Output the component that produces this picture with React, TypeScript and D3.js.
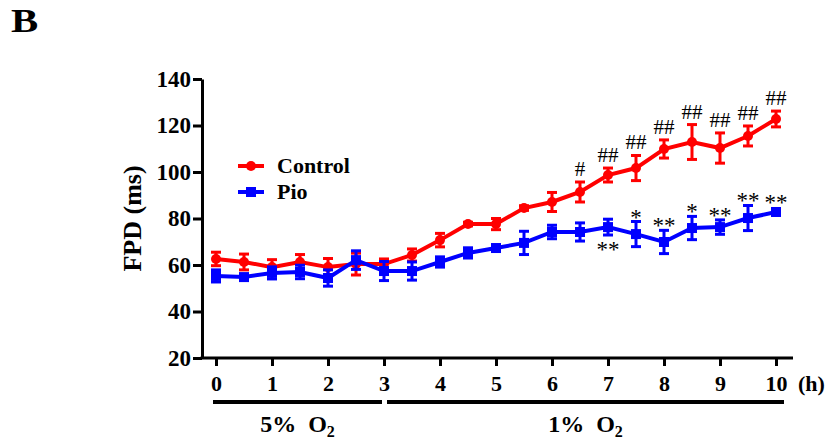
import React, { useEffect, useRef } from "react";
import * as d3 from "d3";

// time points (h)
const hours = [0, 0.5, 1, 1.5, 2, 2.5, 3, 3.5, 4, 4.5, 5, 5.5, 6, 6.5, 7, 7.5, 8, 8.5, 9, 9.5, 10];

const controlMean = [62.6, 61.3, 59.1, 61.3, 59.1, 60.4, 60.4, 64.3, 70.7, 77.6, 77.6, 84.5, 87.1, 91.4, 98.7, 101.7, 109.9, 112.9, 110.3, 115.5, 122.8];
const controlErr = [2.9, 3.4, 3.2, 3.2, 3.7, 4.7, 2.2, 2.6, 2.9, 0.8, 2.4, 1.0, 4.1, 4.3, 3.0, 5.4, 3.9, 7.5, 6.5, 4.3, 3.4];

const pioMean = [55.3, 54.8, 56.6, 57.0, 54.4, 62.1, 57.4, 57.4, 61.3, 65.2, 67.3, 69.5, 74.2, 74.2, 76.3, 73.3, 69.9, 75.9, 76.3, 80.2, 82.8];
const pioErr = [2.6, 0.7, 2.6, 2.9, 3.5, 4.0, 4.1, 3.9, 2.2, 2.2, 0.8, 5.0, 2.9, 3.9, 3.4, 5.4, 5.0, 5.0, 3.1, 5.4, 0.8];

const xTicks = [0, 1, 2, 3, 4, 5, 6, 7, 8, 9, 10];
const yTicks = [20, 40, 60, 80, 100, 120, 140];

// significance marks
const controlSig = [
  { t: 6.5, label: "#" },
  { t: 7, label: "##" },
  { t: 7.5, label: "##" },
  { t: 8, label: "##" },
  { t: 8.5, label: "##" },
  { t: 9, label: "##" },
  { t: 9.5, label: "##" },
  { t: 10, label: "##" },
];
const pioSigAbove = [
  { t: 7.5, label: "*" },
  { t: 8, label: "**" },
  { t: 8.5, label: "*" },
  { t: 9, label: "**" },
  { t: 9.5, label: "**" },
  { t: 10, label: "**" },
];
const pioSigBelow = [{ t: 7, label: "**" }];

const phases = [
  { from: 0, to: 3, label: "5%" },
  { from: 3, to: 10, label: "1%" },
];

const FONT = "Liberation Serif";

export default function App() {
  const ref = useRef<SVGSVGElement>(null);

  useEffect(() => {
    const svg = d3.select(ref.current);
    svg.selectAll("*").remove();

    const x = d3.scaleLinear().domain([0, 10]).range([216, 776]);
    const y = d3.scaleLinear().domain([20, 140]).range([358, 79]);
    const axisLeftX = 202;

    const g = svg.append("g");

    // panel letter
    g.append("text")
      .attr("transform", "translate(11,32) scale(1.2,1)")
      .attr("font-size", 34)
      .attr("font-weight", "bold")
      .text("B");

    // y axis
    const yAxis = g
      .append("g")
      .attr("transform", `translate(${axisLeftX},0)`)
      .call(d3.axisLeft(y).tickValues(yTicks).tickSize(9).tickSizeOuter(0).tickPadding(2));
    yAxis.attr("font-family", null);
    yAxis.select(".domain").attr("stroke", "#000").attr("stroke-width", 3);
    yAxis.selectAll(".tick line").attr("stroke", "#000").attr("stroke-width", 3);
    yAxis
      .selectAll(".tick text")
      .attr("font-size", 23)
      .attr("font-weight", "bold")
      .attr("fill", "#000");

    g.append("text")
      .attr("transform", `translate(141,${(y(20) + y(140)) / 2}) rotate(-90)`)
      .attr("text-anchor", "middle")
      .attr("font-size", 26)
      .attr("font-weight", "bold")
      .text("FPD (ms)");

    // x axis
    g.append("line")
      .attr("x1", axisLeftX - 1.5)
      .attr("x2", 793)
      .attr("y1", y(20))
      .attr("y2", y(20))
      .attr("stroke", "#000")
      .attr("stroke-width", 3);
    const xAxis = g
      .append("g")
      .attr("transform", `translate(0,${y(20)})`)
      .call(d3.axisBottom(x).tickValues(xTicks).tickSize(8).tickSizeOuter(0).tickPadding(9));
    xAxis.attr("font-family", null);
    xAxis.select(".domain").remove();
    xAxis.selectAll(".tick line").attr("stroke", "#000").attr("stroke-width", 3);
    xAxis
      .selectAll(".tick text")
      .attr("font-size", 22)
      .attr("font-weight", "bold")
      .attr("fill", "#000");
    g.append("text")
      .attr("x", 798)
      .attr("y", 391)
      .attr("font-size", 22)
      .attr("font-weight", "bold")
      .text("(h)");

    // oxygen phases
    phases.forEach((p, i) => {
      const x1 = x(p.from) - (i === 0 ? 3 : -3);
      const x2 = x(p.to) + (i === 0 ? -2 : 8);
      g.append("line")
        .attr("x1", x1)
        .attr("x2", x2)
        .attr("y1", 402)
        .attr("y2", 402)
        .attr("stroke", "#000")
        .attr("stroke-width", 4);
      const t = g
        .append("text")
        .attr("x", (x1 + x2) / 2)
        .attr("y", 432)
        .attr("text-anchor", "middle")
        .attr("font-size", 24)
        .attr("font-weight", "bold");
      t.append("tspan").text(`${p.label}\u00a0\u00a0O`);
      t.append("tspan").attr("font-size", 16).attr("dy", 5).text("2");
    });

    const series = [
      { name: "Control", mean: controlMean, err: controlErr, color: "#ff0000", shape: "circle" },
      { name: "Pio", mean: pioMean, err: pioErr, color: "#0000ff", shape: "square" },
    ];

    const line = d3
      .line<number>()
      .x((_, i) => x(hours[i]))
      .y((d) => y(d));

    series.forEach((s) => {
      const sg = g.append("g");
      // error bars
      hours.forEach((h, i) => {
        const top = y(s.mean[i] + s.err[i]);
        const bot = y(s.mean[i] - s.err[i]);
        const cx = x(h);
        sg.append("line").attr("x1", cx).attr("x2", cx).attr("y1", top).attr("y2", bot)
          .attr("stroke", s.color).attr("stroke-width", 3);
        [top, bot].forEach((yy) =>
          sg.append("line").attr("x1", cx - 5).attr("x2", cx + 5).attr("y1", yy).attr("y2", yy)
            .attr("stroke", s.color).attr("stroke-width", 3)
        );
      });
      sg.append("path")
        .datum(s.mean)
        .attr("d", line)
        .attr("fill", "none")
        .attr("stroke", s.color)
        .attr("stroke-width", 4);
      hours.forEach((h, i) => {
        if (s.shape === "circle") {
          sg.append("circle").attr("cx", x(h)).attr("cy", y(s.mean[i])).attr("r", 5).attr("fill", s.color);
        } else {
          sg.append("rect").attr("x", x(h) - 5).attr("y", y(s.mean[i]) - 5)
            .attr("width", 10).attr("height", 10).attr("fill", s.color);
        }
      });
    });

    const idx = (t: number) => hours.indexOf(t);

    // significance labels
    controlSig.forEach((m) => {
      const i = idx(m.t);
      g.append("text")
        .attr("x", x(m.t))
        .attr("y", y(controlMean[i] + controlErr[i]) - 6)
        .attr("text-anchor", "middle")
        .attr("font-size", 21)
        .text(m.label);
    });
    pioSigAbove.forEach((m) => {
      const i = idx(m.t);
      const top = Math.min(y(pioMean[i] + pioErr[i]), y(pioMean[i]) - 5);
      g.append("text")
        .attr("x", x(m.t))
        .attr("y", top + 3)
        .attr("text-anchor", "middle")
        .attr("font-size", 23)
        .text(m.label);
    });
    pioSigBelow.forEach((m) => {
      const i = idx(m.t);
      g.append("text")
        .attr("x", x(m.t))
        .attr("y", y(pioMean[i] - pioErr[i]) + 22)
        .attr("text-anchor", "middle")
        .attr("font-size", 23)
        .text(m.label);
    });

    // legend
    series.forEach((s, i) => {
      const ly = 166 + i * 26;
      const lg = g.append("g");
      lg.append("line").attr("x1", 238).attr("x2", 264).attr("y1", ly).attr("y2", ly)
        .attr("stroke", s.color).attr("stroke-width", 4);
      if (s.shape === "circle") {
        lg.append("circle").attr("cx", 251).attr("cy", ly).attr("r", 5).attr("fill", s.color);
      } else {
        lg.append("rect").attr("x", 246).attr("y", ly - 5).attr("width", 10).attr("height", 10).attr("fill", s.color);
      }
      lg.append("text")
        .attr("x", 277)
        .attr("y", ly + 7)
        .attr("font-size", 22)
        .attr("font-weight", "bold")
        .text(s.name);
    });

    // one serif face for every label
    svg.selectAll("text").style("font-family", FONT).attr("fill", "#000");
  }, []);

  return (
    <svg
      ref={ref}
      width={830}
      height={439}
      style={{ position: "absolute", left: 0, top: 0, background: "#fff" }}
    />
  );
}
